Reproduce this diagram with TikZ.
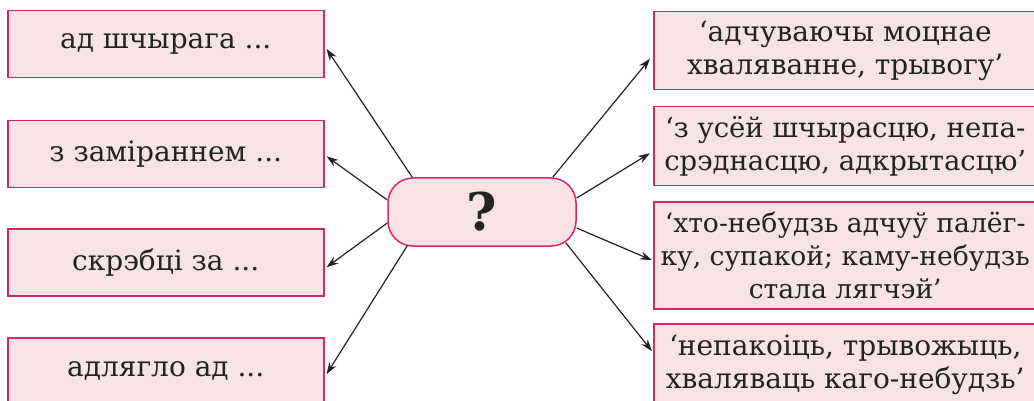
\documentclass[tikz,border=0pt]{standalone}
\usepackage{fontspec}
\setmainfont{DejaVu Serif}
\usetikzlibrary{arrows.meta,calc}
\definecolor{boxfill}{HTML}{F8E3E4}
\definecolor{boxdraw}{HTML}{D8246A}
\definecolor{arrcol}{HTML}{222222}
\begin{document}
\begin{tikzpicture}[x=1pt,y=-1pt,
  box/.style={draw=boxdraw, fill=boxfill, line width=1.5pt, inner sep=0pt, anchor=north west, text=arrcol, font=\fontsize{28}{33}\selectfont, align=center},
  lbox/.style={box, minimum width=316pt, minimum height=67pt},
  rbox/.style={box, minimum width=383pt},
  arr/.style={draw=arrcol, line width=1.2pt, -{Stealth[length=12pt,width=8pt]}}]
\useasboundingbox (0,0) rectangle (1034,401);
\node[lbox] (l1) at (7,10) {ад шчырага ...};
\node[lbox] (l2) at (7,120) {з заміраннем ...};
\node[lbox] (l3) at (7,228) {скрэбці за ...};
\node[lbox] (l4) at (7,337) {адлягло ад ...};
\node[rbox, minimum height=78pt] (r1) at (653,11) {‘адчуваючы моцнае\\хваляванне, трывогу’};
\node[rbox, minimum height=79pt, font=\fontsize{27.5}{33}\selectfont] (r2) at (653,106) {‘з усёй шчырасцю, непа-\\срэднасцю, адкрытасцю’};
\node[rbox, minimum height=107pt, font=\fontsize{26.6}{33}\selectfont] (r3) at (653,201) {‘хто-небудзь адчуў палёг-\\ку, супакой; каму-небудзь\\стала лягчэй’};
\node[rbox, minimum height=81pt] (r4) at (653,323) {‘непакоіць, трывожыць,\\хваляваць каго-небудзь’};
\node[draw=boxdraw, fill=boxfill, line width=1.5pt, rounded corners=25pt, minimum width=188pt, minimum height=68pt, inner sep=0pt, text=arrcol, font=\fontsize{52}{56}\selectfont\bfseries] (c) at (482,212) {?};
\coordinate (s1) at ($(c.north west)+(25,0)$);
\coordinate (s2) at ($(c.west)+(0,-12)$);
\coordinate (s3) at ($(c.west)+(0,11)$);
\coordinate (s4) at ($(c.south west)+(20,-1)$);
\coordinate (s5) at ($(c.north east)+(-24,0)$);
\coordinate (s6) at ($(c.east)+(0,-14)$);
\coordinate (s7) at ($(c.east)+(0,16)$);
\coordinate (s8) at ($(c.south east)+(-11,-4)$);
\coordinate (e1) at ($(l1.east)+(2,4.5)$);
\coordinate (e2) at ($(l2.east)+(2,2)$);
\coordinate (e3) at ($(l3.east)+(2,5)$);
\coordinate (e4) at ($(l4.east)+(2,3)$);
\coordinate (e5) at ($(r1.west)+(-3,8)$);
\coordinate (e6) at ($(r2.west)+(-3,7)$);
\coordinate (e7) at ($(r3.west)+(-1,5)$);
\coordinate (e8) at ($(r4.west)+(-1,-13)$);
\foreach \i in {1,...,8} \draw[arr] (s\i) -- (e\i);
\end{tikzpicture}
\end{document}
